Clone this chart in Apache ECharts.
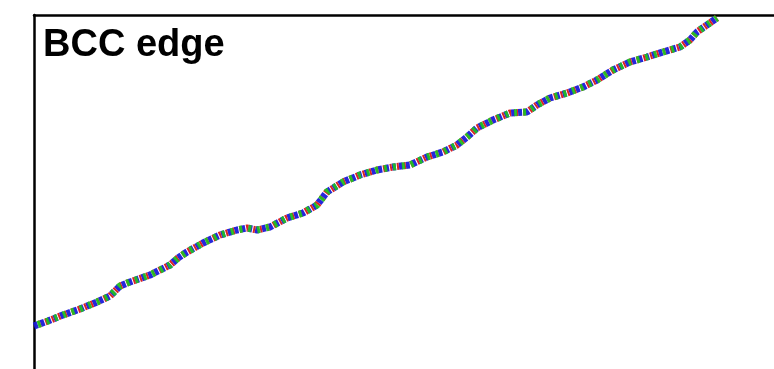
<!DOCTYPE html>
<html><head><meta charset="utf-8">
<script src="https://cdn.jsdelivr.net/npm/echarts@6/dist/echarts.min.js"></script>
<style>html,body{margin:0;padding:0;background:#fff}#c{width:774px;height:369px}</style>
</head><body><div id="c"></div>
<script>
var title = "BCC edge";
var steps = [0,14,29,46,63,76,86,96,116,136,144,153,169,186,203,213,223,236,253,269,283,293,309,326,343,359,376,393,409,423,433,443,459,476,493,503,516,533,549,563,579,596,613,629,646,656,663,673,683];
var position = [43,48,54,60,67,73,83,87,94,104,111,117,126,134,139,141,139,142,151,156,164,177,187,194,199,202,204,212,217,224,232,241,249,256,257,264,271,276,282,289,299,307,312,317,322,329,337,344,351];
var seriesColors = ["#1a1ad8","#d81818","#22c022"];
var dashes = [[4,3],[2,5],[3,6]];
var offsets = [0,2,5];

var pts = steps.map(function(x,i){return [x, position[i]];});
var series = seriesColors.map(function(c,k){
  return {type:'line', data:pts, showSymbol:false, symbol:'none', smooth:false, silent:true,
    lineStyle:{color:c, width:7, type:dashes[k], dashOffset:offsets[k], cap:'butt', opacity:0.95}};
});
var chart = echarts.init(document.getElementById('c'), null, {renderer:'canvas'});
chart.setOption({
  animation:false,
  title:{text:title, left:38, top:22, textStyle:{fontFamily:'Liberation Sans, Arial, sans-serif', fontWeight:'bold', fontSize:38, color:'#000'}},
  grid:{left:34, top:15, right:0, bottom:0, containLabel:false},
  xAxis:{type:'value', position:'top', min:0, max:740, axisLine:{show:true, onZero:false, lineStyle:{color:'#000', width:2.5}}, axisTick:{show:false}, axisLabel:{show:false}, splitLine:{show:false}},
  yAxis:{type:'value', position:'left', min:0, max:354, axisLine:{show:true, onZero:false, lineStyle:{color:'#000', width:2.5}}, axisTick:{show:false}, axisLabel:{show:false}, splitLine:{show:false}},
  series:series
});
</script></body></html>
